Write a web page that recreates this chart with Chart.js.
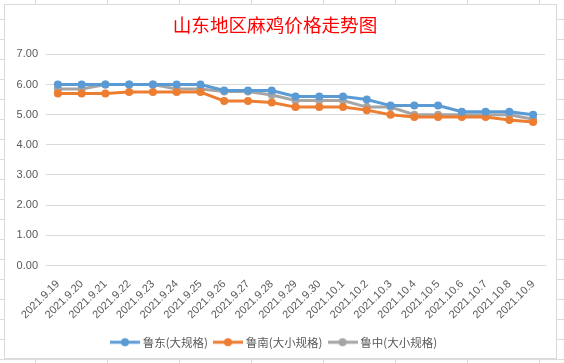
<!DOCTYPE html>
<html>
<head>
<meta charset="utf-8">
<script src="https://cdn.jsdelivr.net/npm/chart.js@4"></script>
<style>
  html, body { margin: 0; padding: 0; }
  body {
    width: 564px; height: 363px; overflow: hidden; position: relative;
    background-color: #fff;
    background-image:
      repeating-linear-gradient(to right, transparent 0, transparent 35px, #dcdcdc 35px, #dcdcdc 36px, transparent 36px, transparent 72px),
      repeating-linear-gradient(to bottom, transparent 0, transparent 19px, #dcdcdc 19px, #dcdcdc 20px);
  }
  #box {
    position: absolute; left: 4px; top: 4px; width: 553px; height: 355px;
    background: #fff; border: 1px solid #d9d9d9; box-sizing: border-box;
  }
</style>
</head>
<body>
<div id="box"><canvas id="chart" width="551" height="353"></canvas></div>
<script>
// ========== DATA ==========
const dates = ['2021.9.19', '2021.9.20', '2021.9.21', '2021.9.22', '2021.9.23', '2021.9.24', '2021.9.25',
  '2021.9.26', '2021.9.27', '2021.9.28', '2021.9.29', '2021.9.30', '2021.10.1', '2021.10.2', '2021.10.3',
  '2021.10.4', '2021.10.5', '2021.10.6', '2021.10.7', '2021.10.8', '2021.10.9'];
const ludong = [6.0, 6.0, 6.0, 6.0, 6.0, 6.0, 6.0, 5.8, 5.8, 5.8, 5.6, 5.6, 5.6, 5.5, 5.3, 5.3, 5.3, 5.1, 5.1, 5.1, 5.0];
const lunan = [5.7, 5.7, 5.7, 5.75, 5.75, 5.75, 5.75, 5.45, 5.45, 5.4, 5.25, 5.25, 5.25, 5.15, 5.0, 4.92, 4.92, 4.92, 4.92, 4.82, 4.76];
const luzhong = [5.85, 5.85, 6.0, 6.0, 6.0, 5.85, 5.85, 5.77, 5.77, 5.65, 5.47, 5.47, 5.47, 5.25, 5.25, 5.0, 5.0, 5.0, 5.0, 5.0, 4.85];
const seriesNames = ['鲁东(大规格)', '鲁南(大小规格)', '鲁中(大小规格)'];
const seriesColors = ['#5B9BD5', '#ED7D31', '#A5A5A5'];
const yMin = 0, yMax = 7, yStep = 1;

// legend marker: short line with a dot
function legendMarker(color) {
  const c = document.createElement('canvas');
  c.width = 30; c.height = 10;
  const g = c.getContext('2d');
  g.strokeStyle = color; g.lineWidth = 3;
  g.beginPath(); g.moveTo(0, 5); g.lineTo(30, 5); g.stroke();
  g.fillStyle = color;
  g.beginPath(); g.arc(15, 5, 4, 0, Math.PI * 2); g.fill();
  return c;
}

function makeSet(i, data) {
  return {
    label: seriesNames[i],
    data: data,
    borderColor: seriesColors[i],
    backgroundColor: seriesColors[i],
    borderWidth: 3,
    pointRadius: 4,
    pointHoverRadius: 4,
    pointBorderWidth: 0,
    pointStyle: 'circle',
    tension: 0
  };
}

new Chart(document.getElementById('chart').getContext('2d'), {
  type: 'line',
  data: {
    labels: dates,
    datasets: [makeSet(0, ludong), makeSet(1, lunan), makeSet(2, luzhong)]
  },
  options: {
    responsive: false,
    animation: false,
    layout: { padding: { left: 0, right: 11, top: 0, bottom: 0 } },
    plugins: {
      title: {
        display: true,
        text: '山东地区麻鸡价格走势图',
        color: '#FF0000',
        font: { family: '"Noto Sans CJK SC"', size: 18.6, weight: 'normal' },
        padding: { top: 9, bottom: 18 }
      },
      legend: {
        position: 'bottom',
        labels: {
          color: '#595959',
          font: { family: '"Noto Sans CJK SC"', size: 11.5 },
          usePointStyle: true,
          pointStyleWidth: 24,
          padding: 8,
          generateLabels: chart => chart.data.datasets.map((ds, i) => ({
            text: ds.label,
            fontColor: '#595959',
            pointStyle: legendMarker(seriesColors[i]),
            datasetIndex: i,
            lineWidth: 0,
            hidden: false
          }))
        }
      },
      tooltip: { enabled: false }
    },
    scales: {
      x: {
        offset: true,
        grid: { display: false },
        border: { color: '#d9d9d9' },
        ticks: {
          color: '#595959',
          font: { family: '"Liberation Sans"', size: 11 },
          minRotation: 45, maxRotation: 45,
          autoSkip: false,
          padding: 4
        },
        afterFit: s => { s.height = 63; }
      },
      y: {
        min: yMin, max: yMax,
        grid: { color: '#d9d9d9', drawTicks: false },
        border: { display: false },
        ticks: {
          stepSize: yStep,
          color: '#595959',
          font: { family: '"Liberation Sans"', size: 11 },
          padding: 8,
          callback: v => v.toFixed(2)
        },
        afterFit: s => { s.width = 41; }
      }
    }
  }
});
</script>
</body>
</html>
